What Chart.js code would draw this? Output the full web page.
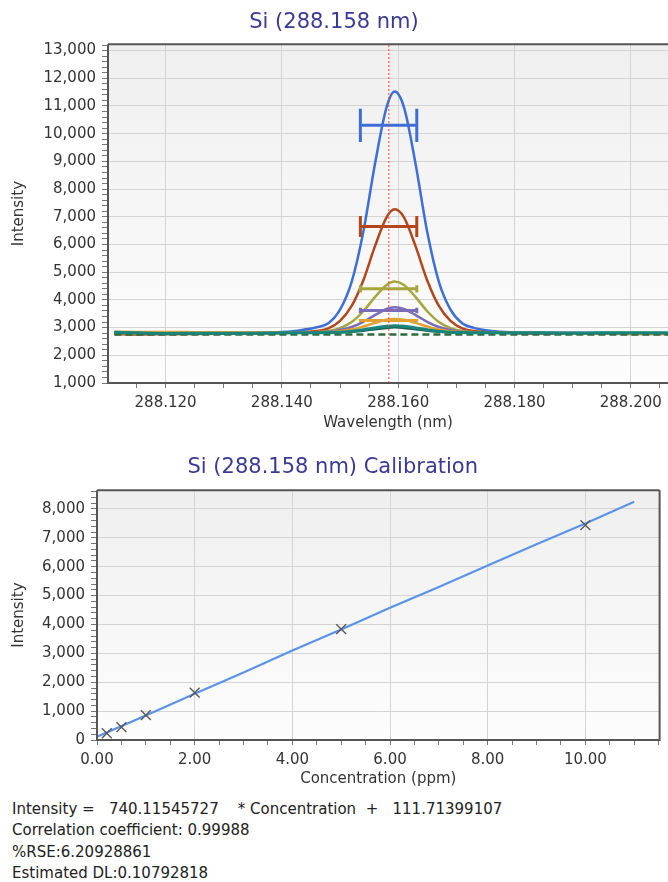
<!DOCTYPE html>
<html>
<head>
<meta charset="utf-8">
<script src="https://cdn.jsdelivr.net/npm/chart.js@4.4.0/dist/chart.umd.min.js"></script>
<style>
  body { margin: 0; background: #fff; width: 668px; height: 882px; overflow: hidden; font-family: "DejaVu Sans", sans-serif; }
  #top { position: absolute; left: 0; top: 0; width: 668px; height: 440px; }
  #bot { position: absolute; left: 0; top: 445px; width: 668px; height: 345px; }
  #stats { position: absolute; left: 12px; top: 799px; font-size: 15px; line-height: 21.3px; color: #222; white-space: pre; }
</style>
</head>
<body>
<div id="top"><canvas id="spec"></canvas></div>
<div id="bot"><canvas id="cal"></canvas></div>
<div id="stats">Intensity =   740.11545727    * Concentration  +   111.71399107
Correlation coefficient: 0.99988
%RSE:6.20928861
Estimated DL:0.10792818</div>

<script>
// ---- spectrum data (wavelength, nm) ----
const wl = [288.1112, 288.115, 288.120, 288.125, 288.130, 288.135, 288.140, 288.143, 288.146, 288.148,
            288.150, 288.152, 288.154, 288.156, 288.158, 288.1594, 288.161, 288.163, 288.165, 288.167,
            288.169, 288.171, 288.173, 288.176, 288.180, 288.185, 288.190, 288.195, 288.200, 288.2064];
const blue   = [2810, 2800, 2805, 2810, 2800, 2810, 2840, 2900, 3010, 3160, 3650, 4650, 6450, 8900, 10950, 11520, 10950, 8900, 6450, 4650, 3650, 3160, 2990, 2880, 2830, 2810, 2800, 2810, 2800, 2800];
const brown  = [2760, 2750, 2760, 2770, 2780, 2790, 2805, 2835, 2880, 2970, 3240, 3780, 4700, 5930, 6980, 7270, 6980, 5930, 4700, 3780, 3240, 2970, 2875, 2825, 2800, 2790, 2790, 2780, 2770, 2770];
const olive  = [2800, 2790, 2800, 2800, 2810, 2800, 2810, 2815, 2835, 2875, 2980, 3200, 3590, 4100, 4540, 4660, 4540, 4100, 3590, 3200, 2980, 2875, 2835, 2815, 2810, 2810, 2800, 2800, 2810, 2800];
const purple = [2800, 2810, 2800, 2810, 2800, 2810, 2810, 2815, 2825, 2850, 2910, 3020, 3210, 3450, 3670, 3730, 3670, 3450, 3210, 3020, 2910, 2850, 2825, 2815, 2810, 2800, 2810, 2800, 2800, 2800];
const orange = [2850, 2840, 2840, 2835, 2830, 2825, 2820, 2820, 2825, 2840, 2870, 2930, 3040, 3170, 3280, 3310, 3280, 3170, 3040, 2930, 2870, 2840, 2825, 2815, 2810, 2800, 2800, 2790, 2780, 2780];
const teal   = [2830, 2810, 2790, 2795, 2800, 2800, 2810, 2810, 2815, 2820, 2835, 2865, 2920, 2990, 3050, 3070, 3050, 2990, 2920, 2865, 2835, 2820, 2815, 2810, 2810, 2810, 2805, 2810, 2810, 2810];
const darkTeal = [2820, 2800, 2790, 2790, 2795, 2800, 2800, 2805, 2810, 2815, 2825, 2845, 2880, 2935, 2980, 3000, 2980, 2935, 2880, 2845, 2825, 2815, 2810, 2805, 2800, 2800, 2800, 2800, 2800, 2800];
const dashWl = [288.1112, 288.2064];
const dashY  = [2750, 2750];

// error bars (horizontal): level, span, cap half-height
const errY   = [10300, 6650, 4400, 3620, 3260];
const errCap = [600, 380, 130, 100, 50];
const errLo  = 288.1535;
const errHi  = 288.1632;
const lineWl = 288.1584;

const wlMajor = [288.12, 288.14, 288.16, 288.18, 288.20];
const intMajor = [1000, 2000, 3000, 4000, 5000, 6000, 7000, 8000, 9000, 10000, 11000, 12000, 13000];

// ---- calibration data ----
const stdConc = [0.2, 0.5, 1, 2, 5, 10];
const stdInt  = [235, 445, 860, 1640, 3840, 7440];
const fitConc = [0, 1, 2, 3, 4, 5, 6, 7, 8, 9, 10, 11];
const fitInt  = [112, 852, 1600, 2340, 3100, 3830, 4580, 5300, 6040, 6780, 7500, 8250];
const concMajor = [0, 2, 4, 6, 8, 10];
const calMajor = [0, 1000, 2000, 3000, 4000, 5000, 6000, 7000, 8000];

Chart.defaults.font.family = '"DejaVu Sans", sans-serif';
Chart.defaults.font.size = 15;
Chart.defaults.color = '#333';

function stepTicks(from, to, step) {
  const out = [];
  for (let i = Math.ceil(from / step - 1e-6); i * step <= to + 1e-9; i++) out.push(+(i * step).toFixed(6));
  return out;
}
const isIn = (v, list) => list.some(m => Math.abs(m - v) < 1e-7);

function axis(o) {
  const vertical = o.pos === 'y';
  return {
    type: 'linear', min: o.min, max: o.max,
    afterBuildTicks: s => { s.ticks = o.minor.map(v => ({ value: v })); },
    afterFit: s => { if (vertical) s.width = o.size; else s.height = o.size; },
    ticks: {
      autoSkip: false, maxRotation: 0, padding: 6, color: '#333',
      callback: v => isIn(v, o.major) ? o.fmt(v) : ''
    },
    grid: {
      color: c => (c.tick && isIn(c.tick.value, o.major)) ? '#d4d4d4' : 'rgba(0,0,0,0)',
      tickColor: '#777', tickLength: vertical ? 6 : 5, lineWidth: 1
    },
    border: { display: false },
    title: { display: true, text: o.title, color: '#333', padding: o.tpad }
  };
}

const framePlugin = {
  id: 'frame',
  beforeDraw(chart, args, opts) {
    const { ctx, chartArea: a } = chart;
    const g = ctx.createLinearGradient(0, a.top, 0, a.bottom);
    g.addColorStop(0, '#efefef');
    g.addColorStop(1, '#fdfdfd');
    ctx.save();
    ctx.fillStyle = g;
    ctx.fillRect(a.left, a.top, a.right - a.left, a.bottom - a.top);
    ctx.restore();
  },
  afterDatasetsDraw(chart, args, opts) {
    const { ctx, chartArea: a } = chart;
    ctx.save();
    ctx.strokeStyle = '#555';
    ctx.lineWidth = 2;
    ctx.beginPath();
    ctx.moveTo(a.left, a.top); ctx.lineTo(a.left, a.bottom); ctx.lineTo(a.right, a.bottom);
    if (opts.right) ctx.lineTo(a.right, a.top);
    ctx.moveTo(a.left, a.top); ctx.lineTo(a.right, a.top);
    ctx.stroke();
    ctx.restore();
  }
};

function spectrum(ys, color, width, order) {
  return {
    data: wl.map((x, i) => ({ x, y: ys[i] })),
    borderColor: color, borderWidth: width, pointRadius: 0,
    cubicInterpolationMode: 'monotone', order
  };
}

function errorBar(i, color) {
  const y = errY[i], c = errCap[i];
  return {
    data: [
      { x: errLo, y: y - c }, { x: errLo, y: y + c }, { x: errLo, y: null },
      { x: errLo, y }, { x: errHi, y }, { x: errHi, y: null },
      { x: errHi, y: y - c }, { x: errHi, y: y + c }
    ],
    borderColor: color, borderWidth: 3, pointRadius: 0, tension: 0, spanGaps: false, order: 1
  };
}

const cBlue = '#3d6fd6', cBrown = '#b3461c', cOlive = '#a6a63c', cPurple = '#7a6cb8',
      cOrange = '#e0a232', cTeal = '#17857a', cDarkTeal = '#1d5f55', cDash = '#2d6b3c';

new Chart(document.getElementById('spec'), {
  type: 'line',
  data: {
    datasets: [
      { data: [{ x: lineWl, y: 1000 }, { x: lineWl, y: 13230 }], borderColor: '#ff3b3b', borderWidth: 1,
        borderDash: [2, 2], pointRadius: 0, order: 0 },
      errorBar(0, cBlue), errorBar(1, cBrown), errorBar(2, cOlive), errorBar(3, cPurple), errorBar(4, cOrange),
      spectrum(teal, cTeal, 3, 2),
      spectrum(darkTeal, cDarkTeal, 2, 3),
      { data: dashWl.map((x, i) => ({ x, y: dashY[i] })), borderColor: cDash, borderWidth: 2.5,
        borderDash: [7, 4], pointRadius: 0, order: 4 },
      spectrum(orange, cOrange, 2.5, 5),
      spectrum(purple, cPurple, 2.5, 6),
      spectrum(olive, cOlive, 2.5, 7),
      spectrum(brown, cBrown, 2.5, 8),
      spectrum(blue, cBlue, 2.5, 9)
    ]
  },
  options: {
    responsive: true, maintainAspectRatio: false, animation: false,
    layout: { padding: 0 },
    plugins: {
      legend: { display: false }, tooltip: { enabled: false },
      title: { display: true, text: 'Si (288.158 nm)', color: '#3a3a96', font: { size: 21, weight: 'normal' }, padding: { top: 10, bottom: 9 } },
      frame: { right: false }
    },
    scales: {
      x: axis({ pos: 'x', min: 288.1101, max: 288.2064, minor: stepTicks(288.115, 288.2064, 0.005), major: wlMajor,
                fmt: v => v.toFixed(3), size: 57, title: 'Wavelength (nm)', tpad: { top: 4, bottom: 8 } }),
      y: axis({ pos: 'y', min: 1000, max: 13230, minor: stepTicks(1000, 13230, 200), major: intMajor,
                fmt: v => v.toLocaleString('en-US'), size: 108, title: 'Intensity', tpad: { top: 10, bottom: 0 } })
    }
  },
  plugins: [framePlugin]
});

new Chart(document.getElementById('cal'), {
  type: 'line',
  data: {
    datasets: [
      { data: stdConc.map((x, i) => ({ x, y: stdInt[i] })), showLine: false, pointStyle: 'crossRot',
        pointRadius: 7, borderColor: '#5a5a5a', borderWidth: 1.4, order: 1 },
      { data: fitConc.map((x, i) => ({ x, y: fitInt[i] })), borderColor: '#5b93e8', borderWidth: 2.2,
        pointRadius: 0, tension: 0, order: 2 }
    ]
  },
  options: {
    responsive: true, maintainAspectRatio: false, animation: false,
    layout: { padding: { right: 2.5 } },
    plugins: {
      legend: { display: false }, tooltip: { enabled: false },
      title: { display: true, text: 'Si (288.158 nm) Calibration', color: '#3a3a96', font: { size: 21, weight: 'normal' }, padding: { top: 10, bottom: 10 } },
      frame: { right: true }
    },
    scales: {
      x: axis({ pos: 'x', min: 0, max: 11.52, minor: stepTicks(0, 11.52, 0.5), major: concMajor,
                fmt: v => v.toFixed(2), size: 50, title: 'Concentration (ppm)', tpad: { top: 2, bottom: 2 } }),
      y: axis({ pos: 'y', min: 0, max: 8650, minor: stepTicks(0, 8650, 200), major: calMajor,
                fmt: v => v.toLocaleString('en-US'), size: 97, title: 'Intensity', tpad: { top: 10, bottom: 0 } })
    }
  },
  plugins: [framePlugin]
});
</script>
</body>
</html>
